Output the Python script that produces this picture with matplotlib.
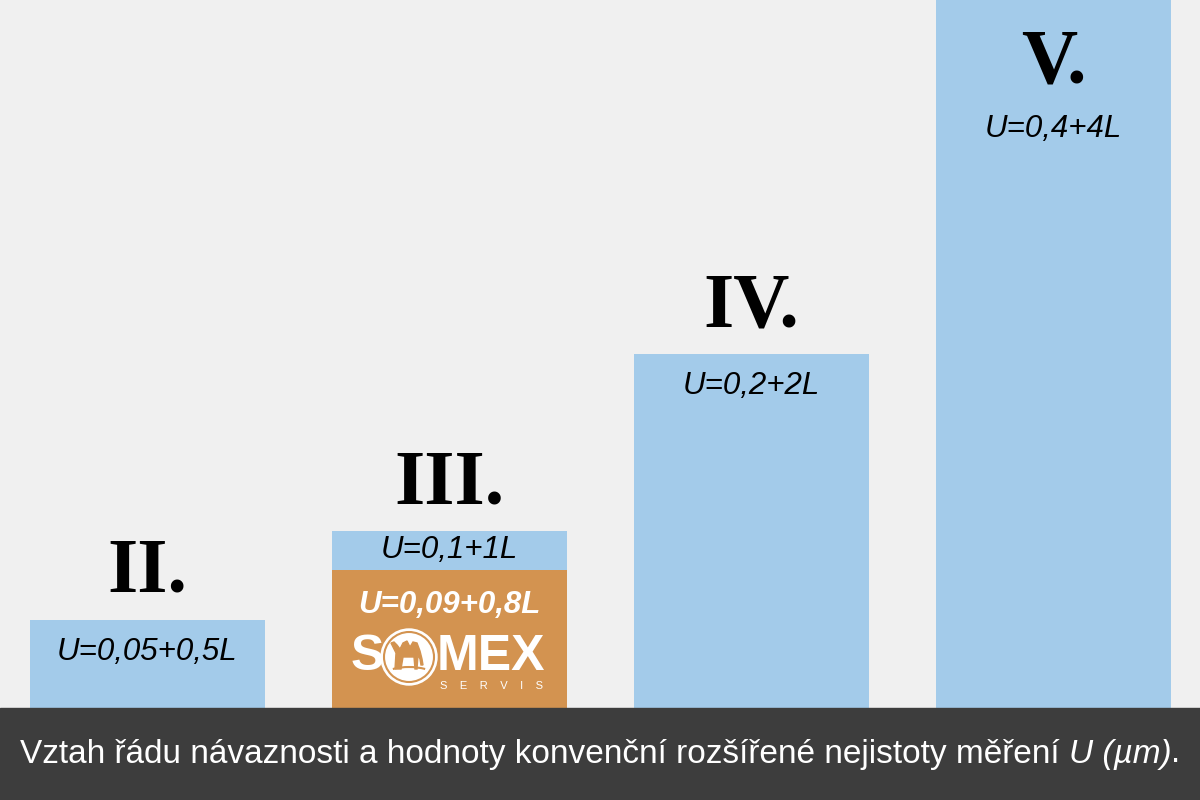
import matplotlib
matplotlib.use("Agg")
import matplotlib.pyplot as plt
from matplotlib.patches import Circle, Rectangle, Polygon, Arc
import numpy as np

numerals = ["II.", "III.", "IV.", "V."]
values = [0.5, 1.0, 2.0, 4.0]
formulas = ["U=0,05+0,5L", "U=0,1+1L", "U=0,2+2L", "U=0,4+4L"]
somex_value = 0.78
somex_formula = "U=0,09+0,8L"
caption = "Vztah řádu návaznosti a hodnoty konvenční rozšířené nejistoty měření "
caption_it = "U (µm)"

BLUE = "#a3cbea"
ORANGE = "#d39350"
BG = "#f0f0f0"
BAND = "#3d3d3d"

fig = plt.figure(figsize=(12, 8), dpi=100, facecolor=BG)
ax = fig.add_axes([0, 92/800, 1, 708/800])
ax.set_facecolor(BG)
x = np.arange(len(values))
ax.bar(x, values, width=0.78, color=BLUE, zorder=2)
ax.bar([1], [somex_value], width=0.78, color=ORANGE, zorder=3)
ax.set_xlim(-0.488, 3.485)
ax.set_ylim(0, 4.0)
ax.axis("off")

serif = ["Liberation Serif", "DejaVu Serif"]
sans = ["Liberation Sans", "DejaVu Sans"]
FS = 22.5

for i in range(3):
    ax.annotate(numerals[i], (x[i], values[i]), xytext=(0, 28), textcoords="offset pixels",
                ha="center", va="baseline", fontsize=56, family=serif, weight="bold", color="black")
for i in [0, 2]:
    ax.annotate(formulas[i], (x[i], values[i]), xytext=(0, -32), textcoords="offset pixels",
                ha="center", va="center", fontsize=FS, family=sans, style="italic", color="black", zorder=5)
ax.text(x[1], (values[1] + somex_value) / 2, formulas[1], ha="center", va="center",
        fontsize=FS, family=sans, style="italic", color="black", zorder=5)
ax.annotate(somex_formula, (x[1], somex_value), xytext=(0, -35), textcoords="offset pixels",
            ha="center", va="center", fontsize=FS, family=sans, style="italic", weight="bold",
            color="white", zorder=5)
# V (bar runs off the top)
ax.text(x[3], 1 - 83/708, numerals[3], transform=ax.get_xaxis_transform(), ha="center", va="baseline",
        fontsize=56, family=serif, weight="bold", color="black", zorder=5)
ax.text(x[3], 1 - 129/708, formulas[3], transform=ax.get_xaxis_transform(), ha="center", va="center",
        fontsize=FS, family=sans, style="italic", color="black", zorder=5)

# bottom band
fig.patches.append(Rectangle((0, 0), 1, 92/800, transform=fig.transFigure, color=BAND, zorder=0))
CFS = 24
cap_txt = fig.text(0, 46/800, caption, ha="left", va="center", fontsize=CFS,
                   family=sans, color="white")
r = fig.canvas.get_renderer()
bb = cap_txt.get_window_extent(renderer=r)
it = fig.text(bb.x1 / 1200, 46/800, caption_it, ha="left", va="center", fontsize=CFS,
              family=sans, style="italic", color="white")
bb2 = it.get_window_extent(renderer=r)
dot = fig.text(bb2.x1 / 1200, 46/800, ".", ha="left", va="center", fontsize=CFS,
               family=sans, color="white")
bb3 = dot.get_window_extent(renderer=r)
total_w = bb3.x1 - bb.x0
shift = (1200 - total_w) / 2 - bb.x0
for tt in (cap_txt, it, dot):
    px, py = tt.get_position()
    tt.set_position((px + shift/1200, py))

# SOMEX logo in its own axes (pixel coords)
lx0, ly0, lw, lh = 340, 100, 220, 80
lax = fig.add_axes([lx0/1200, ly0/800, lw/1200, lh/800])
lax.set_xlim(lx0, lx0 + lw)
lax.set_ylim(ly0, ly0 + lh)
lax.axis("off")
lax.patch.set_alpha(0)
lax.text(367, 800-657, "S", ha="center", va="center", fontsize=36, weight="bold",
         family=sans, color="white")
lax.text(491, 800-657, "MEX", ha="center", va="center", fontsize=36, weight="bold",
         family=sans, color="white")
lax.text(492, 800-686, "S    E    R    V    I    S", ha="center", va="center", fontsize=8,
         family=sans, color="white")
cx, cy = 409, 800-657
lax.add_patch(Circle((cx, cy), 28, color="white"))
lax.add_patch(Circle((cx, cy), 25, fill=False, ec=ORANGE, lw=1.5))
lax.add_patch(Arc((cx, cy - 40), 90, 60, theta1=60, theta2=120, ec=ORANGE, lw=1.5))
camel = [(-14, -12), (-13, 4), (-16, 10), (-18, 14), (-15, 15), (-12, 12), (-9, 8), (-6, 14),
         (-2, 16), (1, 10), (4, 15), (8, 14), (11, 6), (13, -2), (14, -8), (12, -8), (11, -2),
         (9, 2), (8, -12), (6, -12), (5, 0), (-6, 0), (-8, -12), (-10, -12), (-10, -2), (-11, -12)]
lax.add_patch(Polygon([(cx + a, cy + b) for a, b in camel], closed=True, color=ORANGE))

fig.savefig("out.png", dpi=100, facecolor=BG)
